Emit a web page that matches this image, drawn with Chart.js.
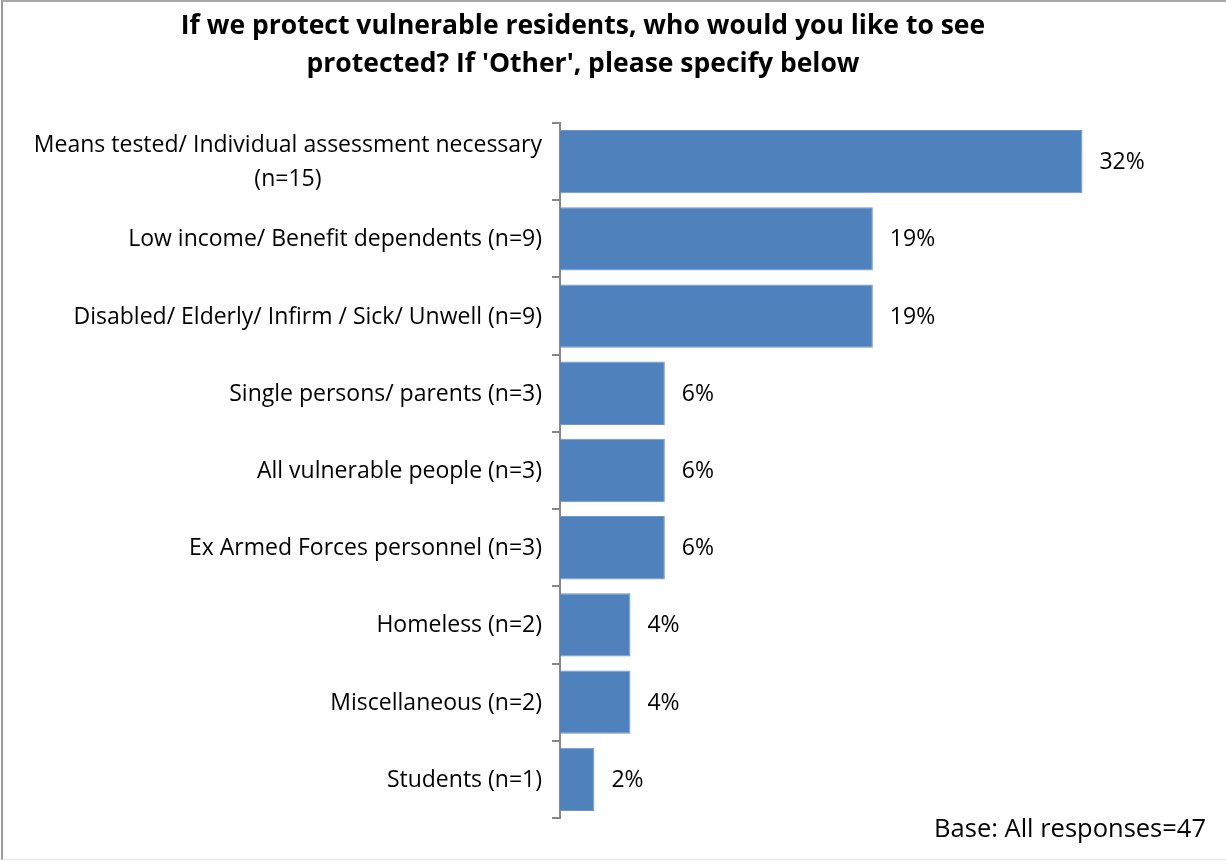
<!DOCTYPE html>
<html>
<head>
<meta charset="utf-8">
<script src="https://cdn.jsdelivr.net/npm/chart.js@4/dist/chart.umd.min.js"></script>
<style>
  html, body { margin: 0; padding: 0; background: #fff; }
  #wrap { position: relative; width: 1226px; height: 861px; }
  #wrap canvas { position: absolute; left: 0; top: 0; }
  #frame {
    position: absolute; left: 1px; top: 0; width: 1225px; height: 860px;
    box-sizing: border-box; pointer-events: none;
    border-left: 2px solid #9b9b9b; border-top: 2px solid #a8a8a8; border-bottom: 1px solid #e4e4e4;
  }
</style>
</head>
<body>
<div id="wrap">
  <canvas id="chart" width="1226" height="861"></canvas>
  <div id="frame"></div>
</div>
<script>
// Survey answers: who should be protected
const categories = [
  ["Means tested/ Individual assessment necessary", "(n=15)"],
  "Low income/ Benefit dependents (n=9)",
  "Disabled/ Elderly/ Infirm / Sick/ Unwell (n=9)",
  "Single persons/ parents (n=3)",
  "All vulnerable people (n=3)",
  "Ex Armed Forces personnel (n=3)",
  "Homeless (n=2)",
  "Miscellaneous (n=2)",
  "Students (n=1)"
];
// Share of all responses, in percent (base 47)
const shares = [31.9, 19.1, 19.1, 6.4, 6.4, 6.4, 4.3, 4.3, 2.1];
const titleLines = [
  "If we protect vulnerable residents, who would you like to see",
  "protected? If 'Other', please specify below"
];
const baseNote = "Base: All responses=47";

const FONT = "'Open Sans', Lato, sans-serif";
const LABEL_SIZE = 23;

// Category labels: block right-aligned against the axis, lines centred within it
const categoryLabels = {
  id: 'categoryLabels',
  afterDraw(chart) {
    const ctx = chart.ctx;
    const yScale = chart.scales.y;
    const rightX = yScale.right - 8 - 10;
    const lineGap = 34;
    ctx.save();
    ctx.font = `${LABEL_SIZE}px ${FONT}`;
    ctx.fillStyle = '#000';
    ctx.textBaseline = 'middle';
    ctx.textAlign = 'center';
    categories.forEach((label, i) => {
      const lines = Array.isArray(label) ? label : [label];
      const widest = Math.max(...lines.map(l => ctx.measureText(l).width));
      const cx = rightX - widest / 2;
      const cy = yScale.getPixelForTick(i) + 1;
      const start = cy - (lines.length - 1) * lineGap / 2;
      lines.forEach((l, k) => ctx.fillText(l, cx, start + k * lineGap));
    });
    ctx.restore();
  }
};

// Percent values beside each bar, plus the base note
const valueLabels = {
  id: 'valueLabels',
  afterDatasetsDraw(chart) {
    const ctx = chart.ctx;
    const meta = chart.getDatasetMeta(0);
    ctx.save();
    ctx.fillStyle = '#000';
    ctx.textBaseline = 'middle';
    ctx.textAlign = 'left';
    ctx.font = `23px ${FONT}`;
    meta.data.forEach((bar, i) => {
      ctx.fillText(Math.round(shares[i]) + '%', bar.x + 17, bar.y + 1);
    });
    ctx.textAlign = 'right';
    ctx.font = `25.5px ${FONT}`;
    ctx.fillText(baseNote, 1206, 830);
    ctx.restore();
  }
};

new Chart(document.getElementById('chart'), {
  type: 'bar',
  data: {
    labels: categories,
    datasets: [{
      data: shares,
      backgroundColor: '#4f81bd',
      borderColor: '#6f95c9',
      borderWidth: 1,
      barPercentage: 0.82,
      categoryPercentage: 1
    }]
  },
  options: {
    indexAxis: 'y',
    responsive: false,
    animation: false,
    layout: { padding: { left: 0, right: 60, top: 0, bottom: 43 } },
    plugins: {
      legend: { display: false },
      tooltip: { enabled: false },
      title: {
        display: true,
        text: titleLines,
        color: '#000',
        font: { family: FONT, size: 26.5, weight: 'bold', lineHeight: 1.434 },
        padding: { top: 7, bottom: 40 }
      }
    },
    scales: {
      x: { display: false, min: 0, max: 37 },
      y: {
        grid: {
          offset: true,
          drawOnChartArea: false,
          drawTicks: true,
          tickLength: 8,
          color: '#878787',
          lineWidth: 2
        },
        border: { display: true, color: '#878787', width: 2 },
        ticks: { color: 'rgba(0,0,0,0)', font: { family: FONT, size: LABEL_SIZE }, padding: 10 },
        afterFit(scale) { scale.width = 560; }
      }
    }
  },
  plugins: [categoryLabels, valueLabels]
});
</script>
</body>
</html>
